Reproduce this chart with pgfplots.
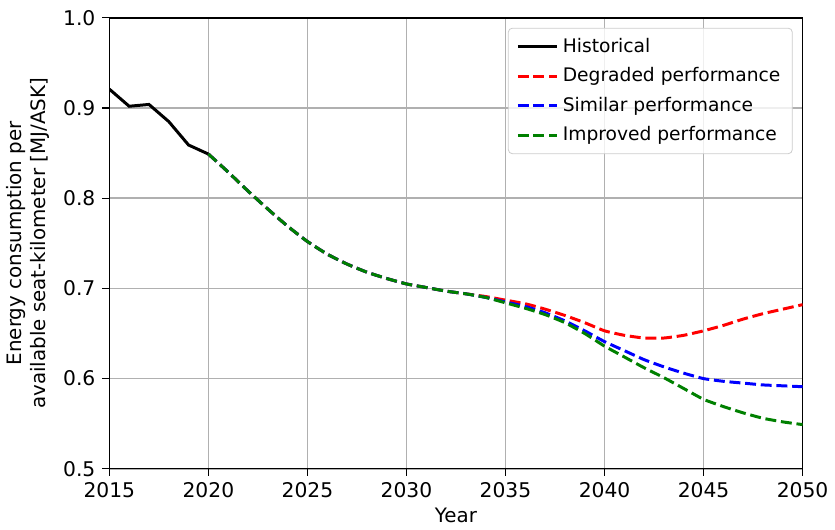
\documentclass[border=0pt]{standalone}
\usepackage{fontspec}
\setmainfont{DejaVu Sans}
\usepackage{pgfplots}
\pgfplotsset{compat=1.18}

% yearly values
\pgfplotstableread{
year hist
2015 0.921
2016 0.902
2017 0.904
2018 0.885
2019 0.859
2020 0.849
}\historical

\pgfplotstableread{
year deg sim imp
2020 0.849 0.849 0.849
2021 0.829 0.829 0.829
2022 0.808 0.808 0.808
2023 0.788 0.788 0.788
2024 0.769 0.769 0.769
2025 0.752 0.752 0.752
2026 0.738 0.738 0.738
2027 0.727 0.727 0.727
2028 0.718 0.718 0.718
2029 0.711 0.711 0.711
2030 0.705 0.705 0.705
2031 0.701 0.701 0.701
2032 0.697 0.697 0.697
2033 0.694 0.694 0.694
2034 0.691 0.690 0.690
2035 0.687 0.685 0.684
2036 0.683 0.680 0.678
2037 0.677 0.673 0.671
2038 0.670 0.664 0.662
2039 0.662 0.653 0.650
2040 0.653 0.641 0.636
2041 0.648 0.631 0.624
2042 0.645 0.621 0.612
2043 0.645 0.613 0.601
2044 0.648 0.606 0.589
2045 0.653 0.600 0.577
2046 0.659 0.597 0.569
2047 0.666 0.595 0.562
2048 0.672 0.593 0.556
2049 0.677 0.592 0.552
2050 0.682 0.591 0.549
}\scenarios

\definecolor{mplgreen}{RGB}{0,128,0}
\definecolor{gridgray}{RGB}{176,176,176}

\begin{document}
\begin{tikzpicture}
\begin{axis}[
  scale only axis,
  width=349pt, height=227pt,
  xmin=2015, xmax=2050,
  ymin=0.5, ymax=1.0,
  xtick={2015,2020,...,2050},
  ytick={0.5,0.6,...,1.0},
  x tick label style={/pgf/number format/.cd,use comma=false,1000 sep={}},
  y tick label style={/pgf/number format/.cd,fixed,fixed zerofill,precision=1},
  /pgf/number format/assume math mode=true,
  tick label style={font=\fontsize{10.2}{12}\selectfont},
  label style={font=\fontsize{10}{12}\selectfont},
  xlabel={Year},
  xlabel style={yshift=2pt},
  ylabel={Energy consumption per\\available seat-kilometer [MJ/ASK]},
  ylabel style={align=center},
  grid=major,
  major grid style={gridgray, line width=0.8pt},
  tick align=outside,
  major tick length=3.5pt,
  tick style={black, line width=0.6pt},
  xtick pos=bottom, ytick pos=left,
  axis line style={line width=0.7pt},
  legend cell align=left,
  legend style={at={(1,1)}, anchor=north east, xshift=-5pt, yshift=-5pt,
    draw=gray!40, rounded corners=2pt, fill=white, fill opacity=0.8,
    text opacity=1, font=\fontsize{9.4}{11}\selectfont,
    row sep=2.2pt, inner xsep=4pt, inner ysep=3pt},
  legend image code/.code={\draw[#1] (0pt,0pt) -- (0.7cm,0pt);},
  every axis plot/.append style={line width=1.5pt},
  mpldash/.style={dash pattern=on 5.5pt off 2.4pt},
]
\addplot[black, no markers] table[x=year, y=hist] {\historical};
\addlegendentry{Historical}
\addplot[red, mpldash, no markers, smooth, tension=0.3] table[x=year, y=deg] {\scenarios};
\addlegendentry{Degraded performance}
\addplot[blue, mpldash, no markers, smooth, tension=0.3] table[x=year, y=sim] {\scenarios};
\addlegendentry{Similar performance}
\addplot[mplgreen, mpldash, no markers, smooth, tension=0.3] table[x=year, y=imp] {\scenarios};
\addlegendentry{Improved performance}
\end{axis}
\path (0,236pt);
\end{tikzpicture}
\end{document}
